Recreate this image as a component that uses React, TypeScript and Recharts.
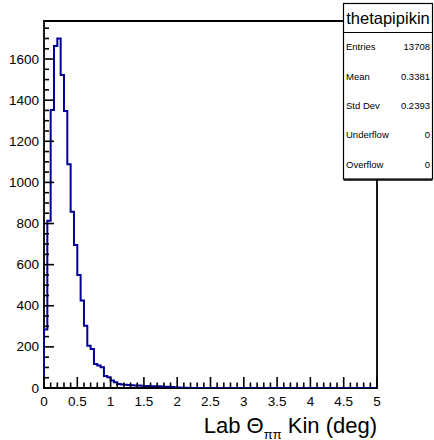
import React from 'react';
import { LineChart, Line, XAxis, YAxis, ReferenceArea } from 'recharts';

const binWidth = 0.05;
const counts = [
  285, 813, 1352, 1663, 1700, 1522, 1347, 1088, 857, 695,
  550, 425, 303, 206, 190, 117, 109, 101, 58, 52,
  36, 28, 20, 17, 16, 14, 13, 12, 12, 11,
  10, 10, 9, 8, 8, 7, 6, 6, 5, 4,
  2, 1, 1, 0, 0, 0, 0, 0, 0, 0,
  0, 0, 0, 0, 0, 0, 0, 0, 0, 0,
  0, 0, 0, 0, 0, 0, 0, 0, 0, 0,
  0, 0, 0, 0, 0, 0, 0, 0, 0, 0,
  0, 0, 0, 0, 0, 0, 0, 0, 0, 0,
  0, 0, 0, 0, 0, 0, 0, 0, 0, 0,
];
const xTicks = [
  0, 0.1, 0.2, 0.3, 0.4, 0.5, 0.6, 0.7, 0.8, 0.9, 1, 1.1, 1.2, 1.3, 1.4, 1.5, 1.6, 1.7, 1.8, 1.9,
  2, 2.1, 2.2, 2.3, 2.4, 2.5, 2.6, 2.7, 2.8, 2.9, 3, 3.1, 3.2, 3.3, 3.4, 3.5, 3.6, 3.7, 3.8, 3.9,
  4, 4.1, 4.2, 4.3, 4.4, 4.5, 4.6, 4.7, 4.8, 4.9, 5,
];
const xMajorTicks = [0, 0.5, 1, 1.5, 2, 2.5, 3, 3.5, 4, 4.5, 5];
const yTicks = [
  0, 50, 100, 150, 200, 250, 300, 350, 400, 450, 500, 550, 600, 650, 700, 750, 800, 850,
  900, 950, 1000, 1050, 1100, 1150, 1200, 1250, 1300, 1350, 1400, 1450, 1500, 1550, 1600,
  1650, 1700, 1750,
];
const yMajorTicks = [0, 200, 400, 600, 800, 1000, 1200, 1400, 1600];
const xMin = 0;
const xMax = 5;
const yMax = 1785;
const statsTitle = 'thetapipikin';
const statsLabels = ['Entries', 'Mean', 'Std Dev', 'Underflow', 'Overflow'];
const statsValues = ['13708', '0.3381', '0.2393', '0', '0'];

const data = [
  { x: 0, count: 0 },
  ...counts.map((c, i) => ({ x: Math.round(i * binWidth * 100) / 100, count: c })),
  { x: xMax, count: counts[counts.length - 1] },
];

const FONT = '"Liberation Sans", Arial, Helvetica, sans-serif';

const XTick = (props: any) => {
  const { x, y, payload } = props;
  const v = payload.value;
  const major = xMajorTicks.includes(v);
  return (
    <g>
      <line x1={x} x2={x} y1={y} y2={y - (major ? 11 : 5.5)} stroke="#000" strokeWidth={1.6} />
      {major && (
        <text x={x} y={y + 13} textAnchor="middle" dominantBaseline="central" fontSize={13.5} fontFamily={FONT} fill="#000">
          {String(v)}
        </text>
      )}
    </g>
  );
};

const YTick = (props: any) => {
  const { x, y, payload } = props;
  const v = payload.value;
  const major = yMajorTicks.includes(v);
  return (
    <g>
      <line x1={x} x2={x + (major ? 10 : 5)} y1={y} y2={y} stroke="#000" strokeWidth={1.6} />
      {major && (
        <text x={x - 5} y={y} textAnchor="end" dominantBaseline="central" fontSize={13.5} fontFamily={FONT} fill="#000">
          {String(v)}
        </text>
      )}
    </g>
  );
};

export default function App() {
  const rowTop = 32;
  const rowH = (179 - rowTop) / statsLabels.length;
  return (
    <div style={{ position: 'absolute', left: 0, top: 0, width: 434, height: 440, background: '#fff' }}>
      <LineChart width={434} height={440} data={data} margin={{ top: 21, right: 57, bottom: 22, left: 14 }}>
        <XAxis
          dataKey="x"
          type="number"
          domain={[xMin, xMax]}
          ticks={xTicks}
          interval={0}
          height={30}
          tickSize={0}
          tickMargin={0}
          axisLine={false}
          tickLine={false}
          tick={(p: any) => <XTick {...p} />}
          allowDataOverflow
        />
        <YAxis
          type="number"
          domain={[0, yMax]}
          ticks={yTicks}
          interval={0}
          width={30}
          tickSize={0}
          tickMargin={0}
          axisLine={false}
          tickLine={false}
          tick={(p: any) => <YTick {...p} />}
          allowDataOverflow
        />
        <Line
          type="stepAfter"
          dataKey="count"
          stroke="#000099"
          strokeWidth={2}
          dot={false}
          activeDot={false}
          isAnimationActive={false}
        />
        <ReferenceArea x1={xMin} x2={xMax} y1={0} y2={yMax} fill="none" fillOpacity={0} stroke="#000" strokeWidth={1.8} />
      </LineChart>
      <svg width={434} height={440} style={{ position: 'absolute', left: 0, top: 0, pointerEvents: 'none' }}>
        <text x={377} y={433} textAnchor="end" fontSize={22} fontFamily={FONT} fill="#000">
          Lab Θ
          <tspan fontSize={13} dy={5.5}>ππ</tspan>
          <tspan dy={-5.5}> Kin (deg)</tspan>
        </text>
        <rect x={343.5} y={3.5} width={89} height={175.5} fill="#fff" stroke="#000" strokeWidth={1.2} />
        <line x1={343.5} x2={432.5} y1={180} y2={180} stroke="#000" strokeWidth={1.5} />
        <line x1={343.5} x2={432.5} y1={rowTop + 0.5} y2={rowTop + 0.5} stroke="#000" strokeWidth={1} />
        <text x={388} y={18} textAnchor="middle" dominantBaseline="central" fontSize={16.5} fontFamily={FONT} fill="#000">
          {statsTitle}
        </text>
        {statsLabels.map((l, i) => (
          <g key={l}>
            <text x={346} y={rowTop + rowH * (i + 0.5)} dominantBaseline="central" fontSize={9.5} fontFamily={FONT} fill="#000">
              {l}
            </text>
            <text x={430} y={rowTop + rowH * (i + 0.5)} textAnchor="end" dominantBaseline="central" fontSize={9.5} fontFamily={FONT} fill="#000">
              {statsValues[i]}
            </text>
          </g>
        ))}
      </svg>
    </div>
  );
}
